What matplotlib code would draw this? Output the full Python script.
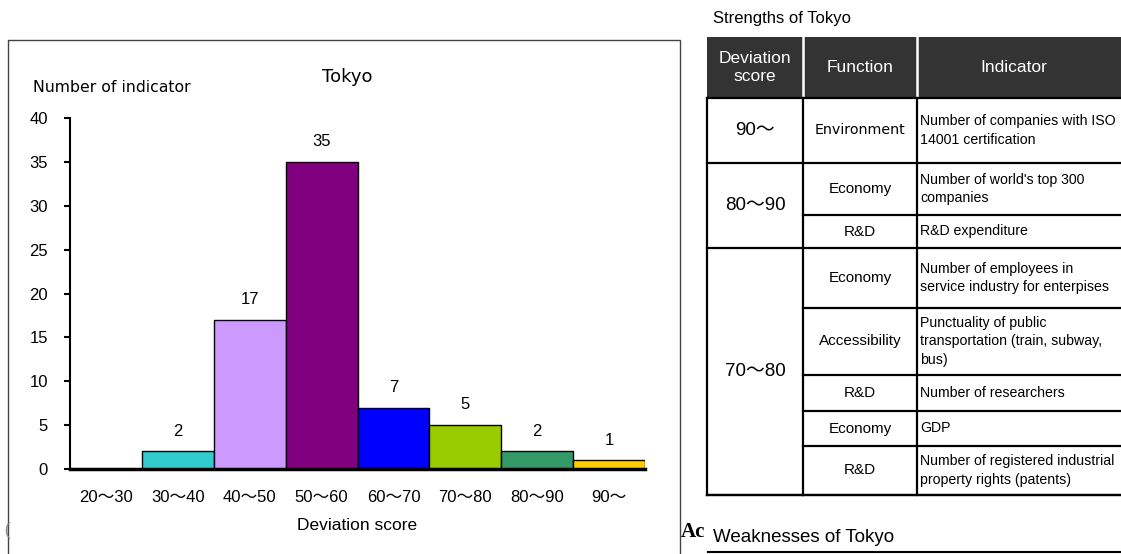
import matplotlib.pyplot as plt
from matplotlib import font_manager
from matplotlib.patches import Rectangle

# Datos del histograma
clases = ['20～30', '30～40', '40～50', '50～60', '60～70', '70～80', '80～90', '90～']
num_indicadores = [0, 2, 17, 35, 7, 5, 2, 1]
colores = ['#ffffff', '#33cccc', '#cc99ff', '#800080', '#0000ff', '#99cc00', '#339966', '#ffcc00']

# Datos de la tabla de fortalezas
grupos_score = ['90～', '80～90', '70～80']
filas_por_grupo = [1, 2, 5]
funciones = ['Environment', 'Economy', 'R&D', 'Economy', 'Accessibility', 'R&D', 'Economy', 'R&D']
indicadores = [
    'Number of companies with ISO\n14001 certification',
    "Number of world's top 300\ncompanies",
    'R&D expenditure',
    'Number of employees in\nservice industry for enterpises',
    'Punctuality of public\ntransportation (train, subway,\nbus)',
    'Number of researchers',
    'GDP',
    'Number of registered industrial\nproperty rights (patents)',
]

nombres = {f.name for f in font_manager.fontManager.ttflist}
NARROW = 'Liberation Sans Narrow' if 'Liberation Sans Narrow' in nombres else 'Liberation Sans'
NARROW_JP = [NARROW, 'Noto Sans CJK JP']

W, H = 1121, 554
fig = plt.figure(figsize=(W / 100, H / 100), dpi=100)

# Capa de fondo en pixeles
bg = fig.add_axes([0, 0, 1, 1], zorder=0)
bg.set_xlim(0, W)
bg.set_ylim(H, 0)
bg.axis('off')

# Marco del grafico
bg.add_patch(Rectangle((8, 40), 672, 530, fill=False, edgecolor='#444444', lw=1))

# Grafico de barras
x0, x1, y0, y1 = 70, 645, 469, 118
ax = fig.add_axes([x0 / W, (H - y0) / H, (x1 - x0) / W, (y0 - y1) / H], zorder=1)
ax.patch.set_alpha(0)
pos = range(len(clases))
ax.bar(pos, num_indicadores, width=1, color=colores, edgecolor='black', linewidth=1)
for i, v in enumerate(num_indicadores):
    if v > 0:
        ax.text(i, v + 2.3, str(v), ha='center', va='center', fontsize=12, family='Liberation Sans')
ax.set_xlim(-0.5, len(clases) - 0.5)
ax.set_ylim(0, 40)
ax.set_yticks(range(0, 41, 5))
ax.set_xticks(list(pos))
ax.set_xticklabels(clases, family=NARROW_JP, fontsize=12)
ax.tick_params(axis='x', length=0, pad=15)
ax.tick_params(axis='y', length=4, width=1.5, pad=12, labelsize=12)
for t in ax.get_yticklabels():
    t.set_family('Liberation Sans')
ax.spines['top'].set_visible(False)
ax.spines['right'].set_visible(False)
ax.spines['left'].set_linewidth(1.5)
ax.spines['bottom'].set_linewidth(2.5)
ax.set_xlabel('Deviation score', family=NARROW, fontsize=12.5, va='center')
ax.xaxis.set_label_coords(0.5, -0.16)

bg.text(33, 88, 'Number of indicator', ha='left', va='center', fontsize=11.3, family='DejaVu Sans')
bg.text(347, 77, 'Tokyo', ha='center', va='center', fontsize=13, family='DejaVu Sans')
bg.text(4, 530, '(', ha='left', va='center', fontsize=13, color='#888888', family='Liberation Serif')

# Tabla de fortalezas
cx = [707, 803, 917, W + 5]
bordes = [98, 163, 215, 248, 308, 375, 411, 446, 495]
top = 37

bg.text(713, 18, 'Strengths of Tokyo', ha='left', va='center', fontsize=12, family=NARROW)
bg.add_patch(Rectangle((cx[0], top), cx[-1] - cx[0], bordes[0] - top, facecolor='#333333', edgecolor='none'))
for x in cx[1:3]:
    bg.plot([x, x], [top, bordes[0]], color='white', lw=1.8)
cabecera = ['Deviation\nscore', 'Function', 'Indicator']
centros = [(cx[0] + cx[1]) / 2, (cx[1] + cx[2]) / 2, 1014]
for c, t in zip(centros, cabecera):
    bg.text(c, (top + bordes[0]) / 2, t, ha='center', va='center', color='white',
            fontsize=12.5, family=NARROW, linespacing=1.25)

# lineas de filas
for i in range(len(funciones)):
    ya, yb = bordes[i], bordes[i + 1]
    bg.plot([cx[1], cx[-1]], [yb, yb], color='black', lw=1.6)
    fam = 'DejaVu Sans' if funciones[i] == 'Environment' else NARROW
    fs = 10.3 if funciones[i] == 'Environment' else 11
    bg.text(centros[1], (ya + yb) / 2, funciones[i], ha='center', va='center', fontsize=fs, family=fam)
    bg.text(cx[2] + 3, (ya + yb) / 2, indicadores[i], ha='left', va='center', fontsize=10.2,
            family=NARROW, linespacing=1.45)

# grupos de score
k = 0
for g, n in zip(grupos_score, filas_por_grupo):
    ya, yb = bordes[k], bordes[k + n]
    bg.plot([cx[0], cx[1]], [yb, yb], color='black', lw=1.6)
    bg.text(centros[0], (ya + yb) / 2, g, ha='center', va='center', fontsize=13.5, family=NARROW_JP)
    k += n

for x in cx[:3]:
    bg.plot([x, x], [bordes[0], bordes[-1]], color='black', lw=1.6)
bg.plot([cx[0], cx[-1]], [bordes[0], bordes[0]], color='black', lw=1.6)
bg.plot([cx[0], cx[-1]], [bordes[-1], bordes[-1]], color='black', lw=1.6)

# Debilidades
bg.text(681, 532, 'Ac', ha='left', va='center', fontsize=15, fontweight='bold', family='Liberation Serif')
bg.text(713, 537, 'Weaknesses of Tokyo', ha='left', va='center', fontsize=13.5, family=NARROW)
bg.plot([708, W], [552, 552], color='black', lw=1.5)

fig.savefig('out.png', dpi=100)
